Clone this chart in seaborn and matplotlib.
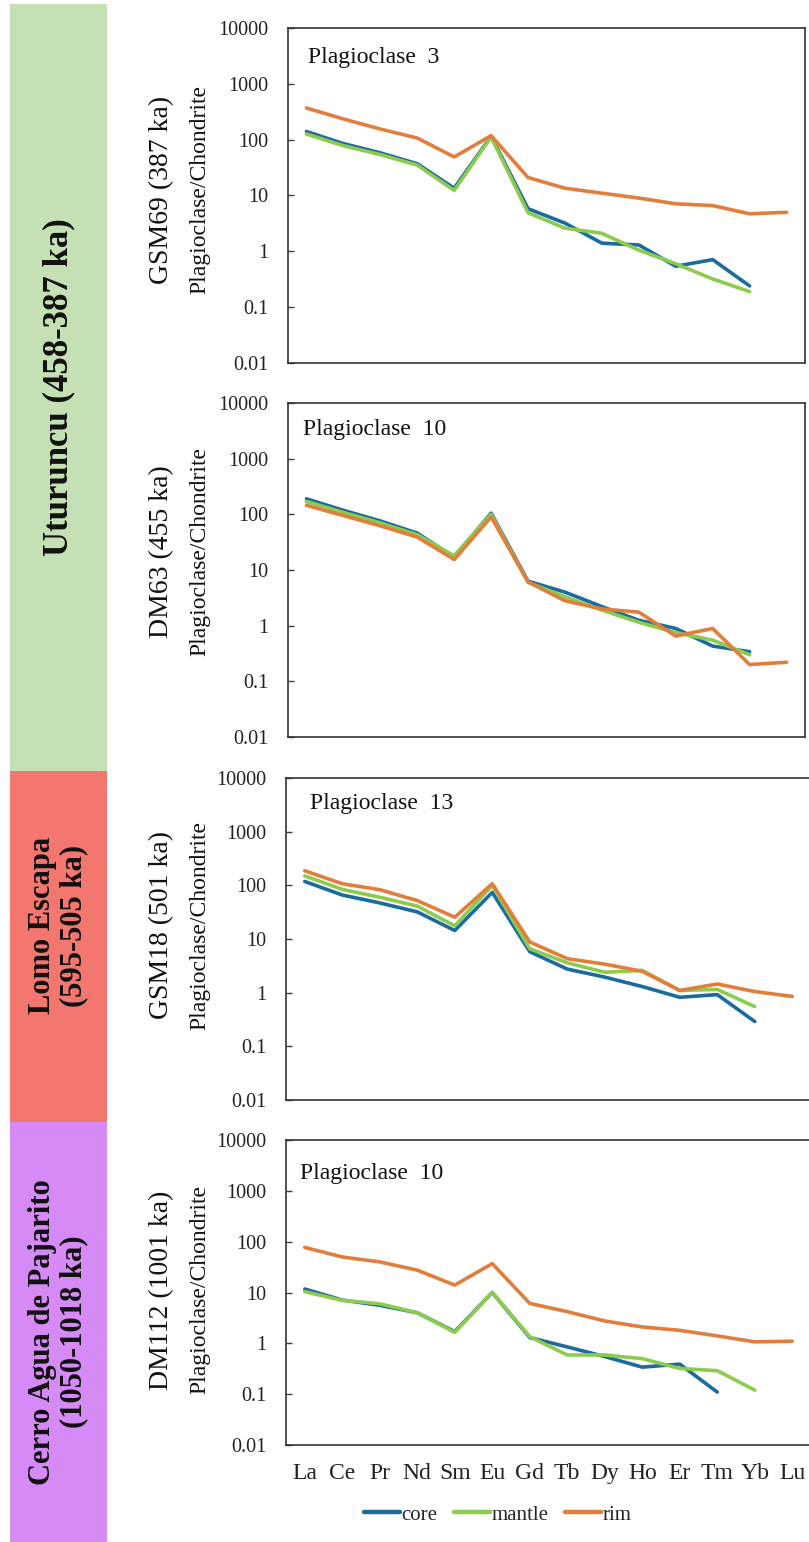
import numpy as np
import pandas as pd
import matplotlib
matplotlib.use("Agg")
import matplotlib.pyplot as plt
from matplotlib.lines import Line2D
import seaborn as sns

# Rare earth elements (x categories)
elements = ["La", "Ce", "Pr", "Nd", "Sm", "Eu", "Gd", "Tb", "Dy", "Ho", "Er", "Tm", "Yb", "Lu"]
zones = ["core", "mantle", "rim"]

# Chondrite-normalised plagioclase REE patterns
gsm69_core = [140, 85, 58, 37, 13.5, 115, 5.8, 3.2, 1.4, 1.3, 0.54, 0.71, 0.24, None]
gsm69_mantle = [126, 78, 54, 35, 12.3, 112, 4.9, 2.6, 2.1, 1.05, 0.6, 0.32, 0.19, None]
gsm69_rim = [369, 235, 155, 107, 49, 118, 21, 13.5, 11, 9, 7.1, 6.6, 4.7, 5.0]

dm63_core = [190, 118, 76, 46, 17, 105, 6.3, 4.0, 2.2, 1.25, 0.89, 0.43, 0.34, None]
dm63_mantle = [170, 108, 70, 43, 18, 100, 6.0, 3.3, 1.9, 1.15, 0.75, 0.55, 0.30, None]
dm63_rim = [145, 95, 62, 39, 15.4, 90, 6.1, 2.8, 2.0, 1.75, 0.65, 0.89, 0.20, 0.22]

gsm18_core = [118, 66, 47, 32, 14.4, 74, 5.8, 2.75, 1.95, 1.3, 0.82, 0.92, 0.29, None]
gsm18_mantle = [150, 84, 60, 41, 17.6, 100, 6.6, 3.6, 2.4, 2.6, 1.1, 1.15, 0.55, None]
gsm18_rim = [187, 107, 83, 52, 25.5, 107, 8.8, 4.3, 3.4, 2.5, 1.1, 1.45, 1.05, 0.85]

dm112_core = [11.7, 7.1, 5.6, 4.0, 1.7, 10, 1.3, 0.85, 0.55, 0.34, 0.39, 0.11, None, None]
dm112_mantle = [10.4, 7.0, 6.0, 4.0, 1.65, 10, 1.35, 0.59, 0.59, 0.5, 0.32, 0.29, 0.12, None]
dm112_rim = [77, 50, 40, 27.5, 14, 37, 6.1, 4.2, 2.75, 2.1, 1.8, 1.4, 1.07, 1.1]

samples = ["GSM69 (387 ka)", "DM63 (455 ka)", "GSM18 (501 ka)", "DM112 (1001 ka)"]
crystals = ["Plagioclase  3", "Plagioclase  10", "Plagioclase  13", "Plagioclase  10"]
series = [
    (gsm69_core, gsm69_mantle, gsm69_rim),
    (dm63_core, dm63_mantle, dm63_rim),
    (gsm18_core, gsm18_mantle, gsm18_rim),
    (dm112_core, dm112_mantle, dm112_rim),
]
yticks = [0.01, 0.1, 1, 10, 100, 1000, 10000]
ytick_labels = ["0.01", "0.1", "1", "10", "100", "1000", "10000"]

groups = ["Uturuncu (458-387 ka)", "Lomo Escapa\n(595-505 ka)", "Cerro Agua de Pajarito\n(1050-1018 ka)"]
group_colors = ["#C5E0B4", "#F4776F", "#D68AF6"]

palette = {"core": "#1C6B9E", "mantle": "#8DCB4F", "rim": "#E27E3C"}

sns.set_theme(style="white")
plt.rcParams["font.family"] = ["Liberation Serif", "DejaVu Serif"]

W, H = 809, 1542
fig = plt.figure(figsize=(W / 100, H / 100), dpi=100)

def frac_rect(x0, x1, y0, y1):
    return [x0 / W, 1 - y1 / H, (x1 - x0) / W, (y1 - y0) / H]

# panel boxes in pixels: (left, right, top, bottom)
boxes = [(288, 805, 28, 363), (288, 805, 403, 737), (286, 811, 778, 1100), (286, 811, 1140, 1445)]
title_pos = [(308, 58), (303, 430), (310, 803), (300, 1173)]
label_y = [190, 552, 925, 1290]

for i, (box, vals) in enumerate(zip(boxes, series)):
    ax = fig.add_axes(frac_rect(*box))
    rows = []
    for zone, v in zip(zones, vals):
        for j, el in enumerate(elements):
            if v[j] is not None:
                rows.append({"pos": j, "element": el, "zone": zone, "value": v[j]})
    df = pd.DataFrame(rows)
    sns.lineplot(data=df, x="pos", y="value", hue="zone", palette=palette,
                 hue_order=zones, linewidth=2.6, sort=False, legend=False, ax=ax)
    ax.set_yscale("log")
    ax.set_ylim(0.01, 10000)
    ax.set_xlim(-0.5, len(elements) - 0.5)
    ax.set_yticks(yticks)
    ax.set_yticklabels(ytick_labels)
    ax.minorticks_off()
    ax.tick_params(axis="y", direction="in", length=4, width=1, color="#404040",
                   labelsize=14.5, pad=14, labelcolor="#222222", left=True)
    ax.set_xticks(range(len(elements)))
    if i == len(boxes) - 1:
        ax.set_xticklabels(elements)
        ax.tick_params(axis="x", length=0, labelsize=17, pad=13, labelcolor="#222222")
    else:
        ax.set_xticklabels([])
        ax.tick_params(axis="x", length=0)
    ax.set_xlabel("")
    for sp in ax.spines.values():
        sp.set_color("#333333")
        sp.set_linewidth(1.2)
    ax.grid(False)

    left, right, top, bottom = box
    tx, ty = title_pos[i]
    ax.text((tx - left) / (right - left), (bottom - ty) / (bottom - top), crystals[i],
            transform=ax.transAxes, ha="left", va="center", fontsize=17, color="#111111")

    ax.set_ylabel("Plagioclase/Chondrite", fontsize=17, color="#111111")
    ax.yaxis.set_label_coords((210 - left) / (right - left),
                              (bottom - label_y[i]) / (bottom - top))

    fig.text(162 / W, 1 - label_y[i] / H, samples[i], rotation=90, ha="center",
             va="center", fontsize=20, color="#111111")

# coloured locality bands on the left
bands = [(4, 771), (771, 1122), (1122, 1542)]
band_text_y = [0.5, 0.56, 0.5]
band_font = [25, 22, 22]
for (y0, y1), label, col, ty, fs in zip(bands, groups, group_colors, band_text_y, band_font):
    band = fig.add_axes(frac_rect(10, 107, y0, y1))
    band.set_facecolor(col)
    band.set_xticks([])
    band.set_yticks([])
    for sp in band.spines.values():
        sp.set_visible(False)
    band.text(0.5, ty, label, rotation=90, ha="center", va="center",
              fontsize=fs, fontweight="bold", color="#111111",
              linespacing=1.1, transform=band.transAxes)

handles = [Line2D([0], [0], color=palette[z], linewidth=3.2) for z in zones]
fig.legend(handles, zones, loc="center", bbox_to_anchor=(498 / W, 1 - 1515 / H),
           ncol=3, frameon=False, fontsize=15, handlelength=1.7, handletextpad=0.1,
           columnspacing=0.8)

fig.savefig("out.png", dpi=100, facecolor="white")
